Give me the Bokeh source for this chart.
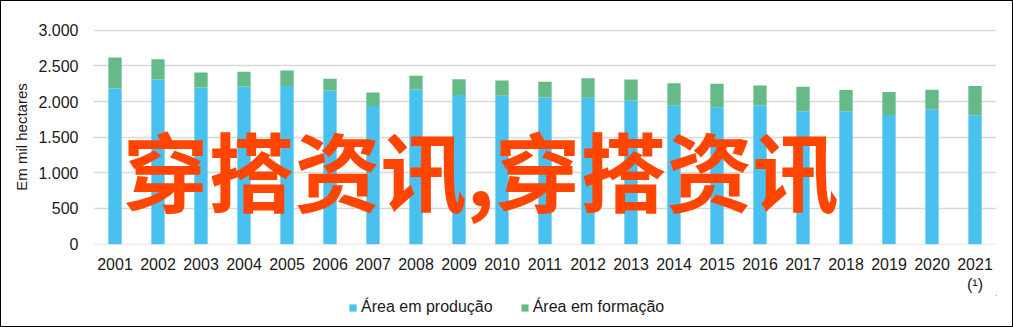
from bokeh.plotting import figure
from bokeh.layouts import column
from bokeh.models import (Range1d, FactorRange, FixedTicker, Label, Legend, LegendItem,
                          ColumnDataSource)
from bokeh.embed import file_html
from bokeh.resources import INLINE

years = [str(y) for y in range(2001, 2022)]
x_labels = years[:-1] + ["2021\n(¹)"]
producao = [2184, 2310, 2198, 2212, 2216, 2156, 1936, 2170, 2090, 2080, 2058,
            2052, 2016, 1946, 1918, 1946, 1862, 1862, 1810, 1890, 1806]
formacao = [434, 284, 210, 204, 220, 162, 192, 190, 224, 216, 218,
            276, 294, 312, 330, 280, 344, 298, 322, 274, 410]
series_names = ["Área em produção", "Área em formação"]
y_ticks = [0, 500, 1000, 1500, 2000, 2500, 3000]
y_tick_labels = ["0", "500", "1.000", "1.500", "2.000", "2.500", "3.000"]
axis_title = "Em mil hectares"
watermark = "穿搭资讯,穿搭资讯"

FONT = "Liberation Sans"
BLUE = "#49C1F0"
GREEN = "#66BA87"
TXT = "#1a1a1a"
COLORS = [BLUE, GREEN]

p = figure(width=1011, height=294, x_range=FactorRange(factors=x_labels),
           y_range=Range1d(-5, 3010), output_backend="svg", toolbar_location=None,
           min_border_left=92, min_border_right=16, min_border_top=28, min_border_bottom=48)
p.outline_line_color = None

src = dict(x=x_labels, prod=producao, form=formacao)
r = p.vbar_stack(["prod", "form"], x="x", width=0.31, color=COLORS,
                 line_color=None, source=src)

p.xgrid.grid_line_color = None
p.ygrid.grid_line_color = "#D9D9D9"
p.ygrid.grid_line_width = 1.5

p.yaxis.ticker = FixedTicker(ticks=y_ticks)
p.yaxis.major_label_overrides = {t: l for t, l in zip(y_ticks, y_tick_labels)}

for ax in (p.xaxis[0], p.yaxis[0]):
    ax.axis_line_color = None
    ax.major_tick_line_color = None
    ax.minor_tick_line_color = None
    ax.major_tick_out = 0
    ax.major_tick_in = 0
    ax.major_label_text_font = FONT
    ax.major_label_text_color = TXT
p.xaxis.major_label_text_font_size = "16px"
p.yaxis.major_label_text_font_size = "16px"
p.xaxis.major_label_standoff = 11
p.yaxis.major_label_standoff = 15
p.yaxis.axis_label = axis_title
p.yaxis.axis_label_text_font = FONT
p.yaxis.axis_label_text_font_style = "normal"
p.yaxis.axis_label_text_font_size = "15px"
p.yaxis.axis_label_text_color = TXT
p.yaxis.axis_label_standoff = 5

wm = Label(x=9.0, y=1055, text=watermark, text_align="center", text_baseline="middle",
           text_font="Noto Sans CJK SC", text_font_style="bold",
           text_font_size="86px", text_color="#FF4500")
p.add_layout(wm)

# legend strip below the chart (its swatch renderers use the real data, which lies outside its view)
p2 = figure(width=1011, height=31, output_backend="svg", toolbar_location=None,
            min_border=0, x_range=Range1d(0, 1), y_range=Range1d(0, 1))
p2.outline_line_color = None
p2.axis.visible = False
p2.grid.visible = False
src2 = ColumnDataSource(dict(prod=producao, form=formacao))
swatches = [p2.vbar(x="prod", top="form", bottom="prod", width=1, color=c, line_color=None,
                    source=src2) for c in COLORS]
legend = Legend(items=[LegendItem(label=n, renderers=[s]) for n, s in zip(series_names, swatches)],
                orientation="horizontal", location=(255, 10),
                padding=0, margin=0, spacing=27, label_standoff=4,
                glyph_width=9, glyph_height=9,
                label_text_font=FONT, label_text_font_size="16px",
                label_text_color=TXT,
                border_line_color=None, background_fill_alpha=0)
p2.add_layout(legend, "center")

layout = column(p, p2, spacing=0)
layout.styles = {"border": "1px solid black"}

open("out.html", "w").write(file_html(layout, INLINE))
